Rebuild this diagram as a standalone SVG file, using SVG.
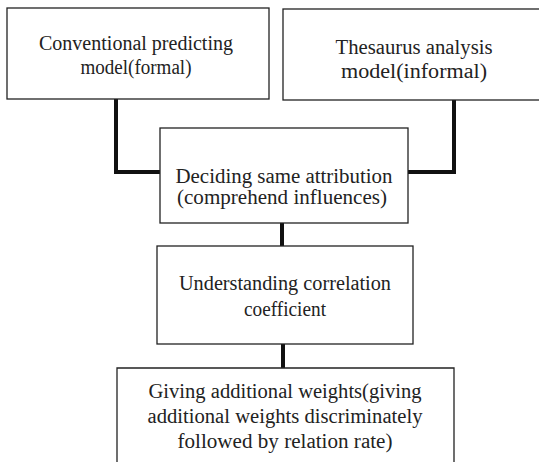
<svg xmlns="http://www.w3.org/2000/svg" width="539" height="462" viewBox="0 0 539 462">
<style>
.box{fill:#fff;stroke:#222;stroke-width:1.3}
.t{font-family:"Liberation Serif","Times New Roman",serif;font-size:20.5px;fill:#222;text-anchor:middle}
.c{fill:none;stroke:#111;stroke-width:4}
</style>
<rect width="539" height="462" fill="#fff"/>
<g id="connectors">
<polyline class="c" points="116,99 116,172 160,172"/>
<polyline class="c" points="454,100 454,172 408,172"/>
<line class="c" x1="282" y1="223" x2="282" y2="246"/>
<line class="c" x1="283" y1="344" x2="283" y2="368"/>
</g>
<g id="n1">
<rect class="box" x="7" y="8" width="262" height="91"/>
<text class="t" x="136" y="50" textLength="194" lengthAdjust="spacingAndGlyphs">Conventional predicting</text>
<text class="t" x="136" y="74" textLength="111" lengthAdjust="spacingAndGlyphs">model(formal)</text>
</g>
<g id="n2">
<rect class="box" x="283" y="9" width="270" height="91"/>
<text class="t" x="414" y="54" textLength="157" lengthAdjust="spacingAndGlyphs">Thesaurus analysis</text>
<text class="t" x="414" y="78" textLength="146" lengthAdjust="spacingAndGlyphs">model(informal)</text>
</g>
<g id="n3">
<rect class="box" x="160" y="128" width="248" height="95"/>
<text class="t" x="284" y="183" textLength="217" lengthAdjust="spacingAndGlyphs">Deciding same attribution</text>
<text class="t" x="282" y="204" textLength="210" lengthAdjust="spacingAndGlyphs">(comprehend influences)</text>
</g>
<g id="n4">
<rect class="box" x="157" y="246" width="256" height="98"/>
<text class="t" x="285" y="290" textLength="212" lengthAdjust="spacingAndGlyphs">Understanding correlation</text>
<text class="t" x="285" y="316" textLength="82" lengthAdjust="spacingAndGlyphs">coefficient</text>
</g>
<g id="n5">
<path class="box" d="M117,470 V368 H454 V470"/>
<text class="t" x="285" y="398" textLength="273" lengthAdjust="spacingAndGlyphs">Giving additional weights(giving</text>
<text class="t" x="285" y="423" textLength="275" lengthAdjust="spacingAndGlyphs">additional weights discriminately</text>
<text class="t" x="285" y="448" textLength="215" lengthAdjust="spacingAndGlyphs">followed by relation rate)</text>
</g>
</svg>
